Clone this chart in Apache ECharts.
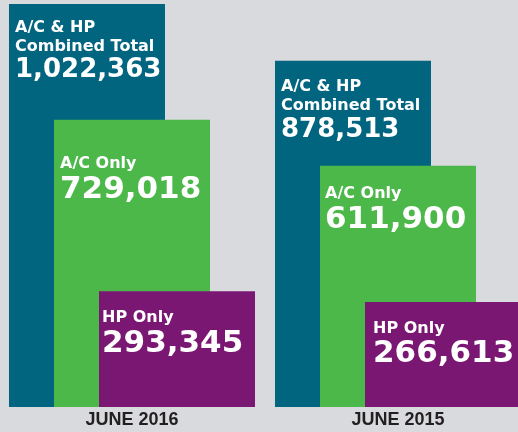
<!DOCTYPE html>
<html>
	<head>
		<meta charset="UTF-8">
		<title></title>
		<script type="text/javascript" src="https://cdn.jsdelivr.net/npm/echarts@6/dist/echarts.min.js"></script>
		<style>
			html, body { margin: 0; padding: 0; background: #d8dadd; }
		</style>
	</head>
	<body>
    <div id="content" style="width: 518px;height:432px;"></div>

    <script>
        // data
        var months = ['JUNE 2016', 'JUNE 2015'];
        var combinedTotal = [1022363, 878513];
        var acOnly = [729018, 611900];
        var hpOnly = [293345, 266613];

        var seriesNames = ['A/C & HP\nCombined Total', 'A/C Only', 'HP Only'];
        var colors = ['#01657f', '#4cb84a', '#7a1773'];

        // label nudges inside each bar [dx, dy], per month
        var labelOffsets = [
            [[6, 14], [6, 35], [3, 17]],
            [[6, 17], [5, 19], [8, 17]]
        ];

        function fmt(v) {
            return v.toLocaleString('en-US');
        }

        function makeData(values, s) {
            return values.map(function (v, i) {
                return {
                    value: v,
                    label: { offset: labelOffsets[i][s] }
                };
            });
        }

        function makeSeries(values, s) {
            var lines = seriesNames[s].split('\n');
            var numStyle = s === 0 ? 'nt' : 'n';
            return {
                name: seriesNames[s],
                type: 'bar',
                barWidth: 156,
                barGap: '-71.15%',
                itemStyle: { color: colors[s] },
                label: {
                    show: true,
                    position: 'insideTopLeft',
                    distance: 0,
                    formatter: function (p) {
                        var out = lines.map(function (l) { return '{s|' + l + '}'; });
                        out.push('{' + numStyle + '|' + fmt(p.value) + '}');
                        return out.join('\n');
                    },
                    rich: {
                        s: { fontFamily: 'DejaVu Sans', fontWeight: 'bold', fontSize: 16, lineHeight: 19, color: '#fff' },
                        nt: { fontFamily: 'DejaVu Sans', fontWeight: 'bold', fontSize: 26, lineHeight: 29, color: '#fff' },
                        n: { fontFamily: 'DejaVu Sans', fontWeight: 'bold', fontSize: 31, lineHeight: 33, color: '#fff' }
                    }
                },
                emphasis: { disabled: true },
                data: makeData(values, s)
            };
        }

        var myChart = echarts.init(document.getElementById('content'));

        var option = {
            backgroundColor: '#d8dadd',
            animation: false,
            grid: {
                left: -1,
                width: 532,
                top: 4,
                bottom: 25,
                outerBoundsMode: 'none'
            },
            xAxis: {
                type: 'category',
                data: months,
                axisLine: { show: false },
                axisTick: { show: false },
                axisLabel: {
                    margin: 4,
                    color: '#231f20',
                    fontFamily: 'Liberation Sans',
                    fontWeight: 'bold',
                    fontSize: 18
                }
            },
            yAxis: {
                type: 'value',
                min: 0,
                max: 1022363,
                show: false,
                splitLine: { show: false }
            },
            series: [
                makeSeries(combinedTotal, 0),
                makeSeries(acOnly, 1),
                makeSeries(hpOnly, 2)
            ]
        };

        myChart.setOption(option);
    </script>

	</body>
</html>
